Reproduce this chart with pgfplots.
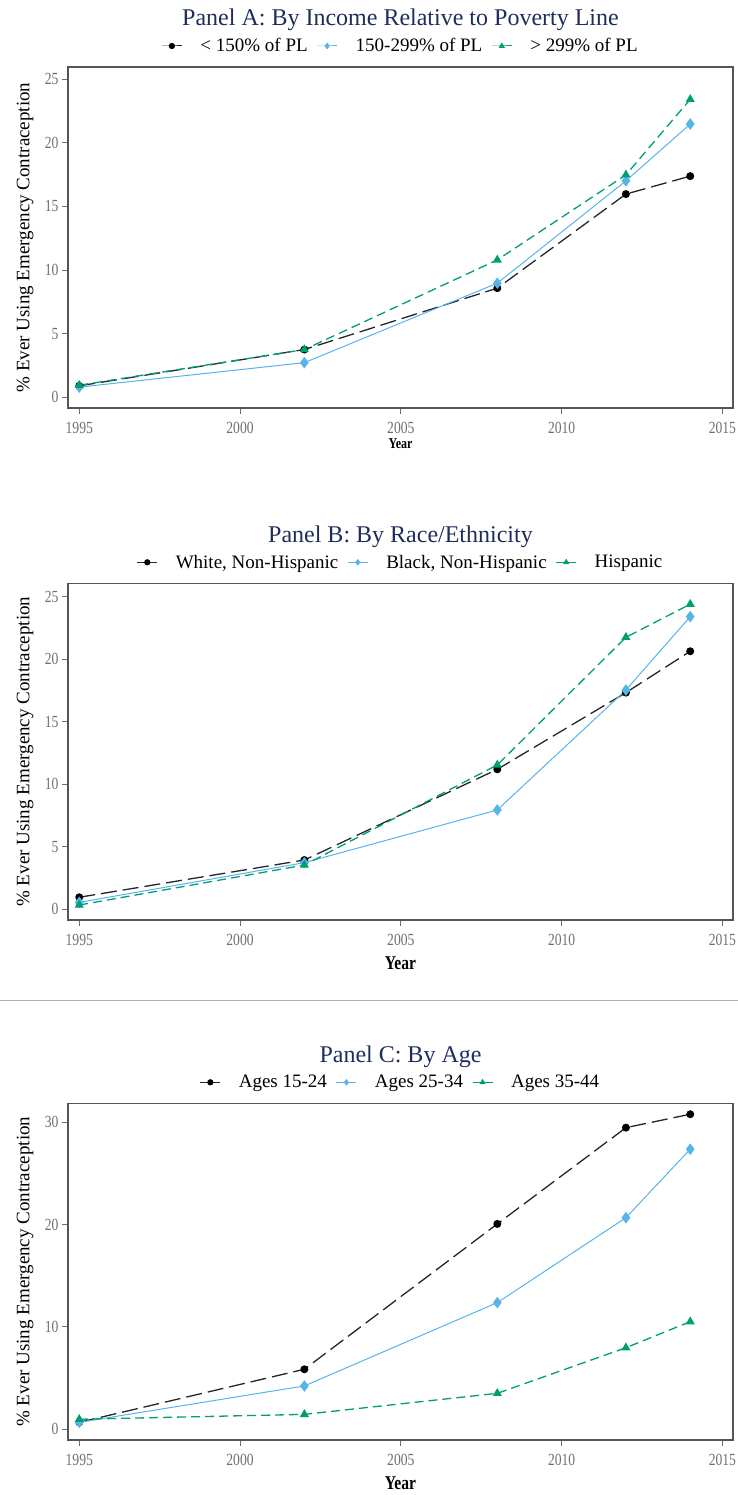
\documentclass[border=0pt]{standalone}
\usepackage{fontspec}
\setmainfont{Liberation Serif}
\newfontfamily\tickfont[FakeStretch=0.8]{Liberation Serif}
\usepackage{pgfplots}
\pgfplotsset{compat=1.18}
\definecolor{cblue}{HTML}{56B4E9}
\definecolor{cgreen}{HTML}{009E73}
\definecolor{titlecol}{HTML}{1F2D5C}
\definecolor{framecol}{HTML}{555555}
\definecolor{tickcol}{HTML}{6E6E6E}
\pgfplotsset{
 panel/.style={
  scale only axis, width=665pt,
  xmin=1994.65, xmax=2015.33,
  xtick={1995,2000,2005,2010,2015},
  axis line style={framecol, line width=1.2pt},
  tick style={tickcol, line width=0.8pt},
  tick align=outside, tick pos=left, major tick length=6pt,
  xticklabel style={font=\tickfont\fontsize{17}{17}\selectfont, text=tickcol, yshift=-5pt},
  yticklabel style={font=\tickfont\fontsize{17}{17}\selectfont, text=tickcol},
  /pgf/number format/assume math mode=true,
  /pgf/number format/1000 sep={},
  ylabel={\% Ever Using Emergency Contraception},
  ylabel style={at={([xshift=-43pt]axis description cs:0,0.5)}, anchor=center, font=\fontsize{19}{19}\selectfont},
  title style={at={(0.5,1)}, anchor=center, yshift=41pt, font=\fontsize{24}{24}\selectfont, text=titlecol},
  legend style={at={(0.5,1)}, anchor=center, yshift=21pt, draw=none, fill=none,
    font=\fontsize{19}{19}\selectfont,
    /tikz/every even column/.append style={column sep=7pt},
    /tikz/every odd column/.append style={column sep=16pt}},
  legend columns=3, legend cell align=left,
 },
 legimg/.style={legend image code/.code={\draw[mark repeat=2,mark phase=2,##1,solid,line width=1pt,mark size=2.6pt] plot coordinates {(0pt,0pt) (10pt,0pt) (20pt,0pt)};}},
 s1/.style={black!85, dash pattern=on 16pt off 6pt, line width=1.3pt, mark=*, mark size=3.3pt, mark options={solid, fill=black, draw=black}, legimg},
 s2/.style={cblue, solid, line width=1pt, mark=diamond*, mark size=5pt, mark options={solid, fill=cblue}, legimg},
 s3/.style={cgreen, dash pattern=on 9pt off 5pt, line width=1.3pt, mark=triangle*, mark size=4pt, mark options={solid, fill=cgreen}, legimg},
}
\begin{document}
\begin{tikzpicture}
\path[use as bounding box] (0pt,0pt) rectangle (738pt,-1495pt);
% Panel A
\begin{axis}[panel, at={(68pt,-67pt)}, anchor=north west, height=341pt,
  ymin=-0.84, ymax=25.94, ytick={0,5,10,15,20,25},
  title={Panel A: By Income Relative to Poverty Line},
  xlabel={Year}, xlabel style={at={([yshift=-36pt]axis description cs:0.5,0)}, anchor=center, font=\tickfont\bfseries\fontsize{15}{15}\selectfont}]
\addplot[s1] coordinates {(1995,0.90) (2002,3.75) (2008,8.57) (2012,15.96) (2014,17.37)};
\addlegendentry{< 150\% of PL}
\addplot[s2] coordinates {(1995,0.80) (2002,2.72) (2008,8.96) (2012,17.00) (2014,21.46)};
\addlegendentry{150-299\% of PL}
\addplot[s3] coordinates {(1995,0.95) (2002,3.75) (2008,10.79) (2012,17.47) (2014,23.40)};
\addlegendentry{> 299\% of PL}
\end{axis}
% Panel B
\begin{axis}[panel, at={(68pt,-583.3pt)}, anchor=north west, height=336.7pt,
  ymin=-0.88, ymax=26.07, ytick={0,5,10,15,20,25},
  title={Panel B: By Race/Ethnicity},
  xlabel={Year}, xlabel style={at={([yshift=-43pt]axis description cs:0.5,0)}, anchor=center, font=\tickfont\bfseries\fontsize{19.5}{19.5}\selectfont}]
\addplot[s1] coordinates {(1995,0.94) (2002,3.92) (2008,11.18) (2012,17.32) (2014,20.63)};
\addlegendentry{White, Non-Hispanic}
\addplot[s2] coordinates {(1995,0.53) (2002,3.71) (2008,7.93) (2012,17.53) (2014,23.40)};
\addlegendentry{Black, Non-Hispanic}
\addplot[s3] coordinates {(1995,0.32) (2002,3.52) (2008,11.53) (2012,21.75) (2014,24.40)};
\addlegendentry{Hispanic}
\end{axis}
\draw[black!30, line width=1pt] (0pt,-1000pt) -- (738pt,-1000pt);
% Panel C
\begin{axis}[panel, at={(68pt,-1103.3pt)}, anchor=north west, height=336.7pt,
  ymin=-1.08, ymax=31.86, ytick={0,10,20,30},
  title={Panel C: By Age},
  xlabel={Year}, xlabel style={at={([yshift=-43pt]axis description cs:0.5,0)}, anchor=center, font=\tickfont\bfseries\fontsize{19.5}{19.5}\selectfont}]
\addplot[s1] coordinates {(1995,0.65) (2002,5.84) (2008,20.06) (2012,29.48) (2014,30.79)};
\addlegendentry{Ages 15-24}
\addplot[s2] coordinates {(1995,0.65) (2002,4.21) (2008,12.36) (2012,20.67) (2014,27.37)};
\addlegendentry{Ages 25-34}
\addplot[s3] coordinates {(1995,0.95) (2002,1.43) (2008,3.49) (2012,7.95) (2014,10.50)};
\addlegendentry{Ages 35-44}
\end{axis}
\end{tikzpicture}
\end{document}
